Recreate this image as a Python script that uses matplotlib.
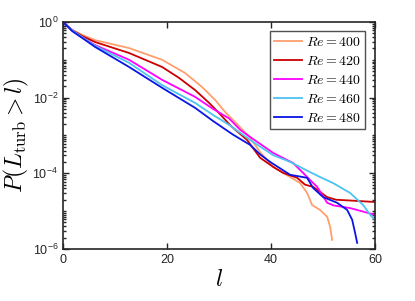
import matplotlib
matplotlib.use('Agg')
import matplotlib.pyplot as plt
import matplotlib.ticker as mticker
import numpy as np

plt.rcParams['font.family'] = ['Liberation Sans', 'DejaVu Sans']
plt.rcParams['mathtext.fontset'] = 'cm'

# survival function P(L_turb > l) (log10 of P)
re_list = [400, 420, 440, 460, 480]
colour_list = ['#ff9f6e', '#cc0000', '#ff00ff', '#4cc3f0', '#0a14e6']

l_400 = [0, 1.73, 3.65, 6.15, 12.69, 19.04, 23.46, 26.73, 29.23, 31.15, 33.46,
         35.96, 37.88, 40.38, 43.65, 45.58, 46.92, 47.88, 49.42, 50.77, 51.35, 51.73]
p_400 = [0, -0.21, -0.34, -0.48, -0.69, -1.00, -1.35, -1.72, -2.06, -2.38, -2.70,
         -3.06, -3.44, -3.83, -4.10, -4.26, -4.52, -4.84, -4.97, -5.15, -5.42, -5.76]

l_420 = [0, 1.73, 3.65, 6.15, 12.69, 19.04, 22.31, 25.38, 28.08, 30.0, 32.12,
         35.38, 37.88, 40.38, 42.31, 45.0, 46.5, 48.08, 50.77, 52.5, 55.19, 60.0]
p_420 = [0, -0.21, -0.37, -0.53, -0.82, -1.19, -1.48, -1.80, -2.14, -2.41, -2.73,
         -3.12, -3.59, -3.83, -3.99, -4.12, -4.30, -4.36, -4.63, -4.70, -4.72, -4.76]

l_440 = [0, 1.73, 3.65, 6.15, 12.69, 19.04, 25.38, 28.85, 31.92, 34.04, 35.96,
         40.38, 44.23, 46.15, 47.5, 48.85, 50.77, 52.0, 55.19, 60.0]
p_440 = [0, -0.22, -0.40, -0.61, -1.00, -1.53, -1.98, -2.30, -2.55, -2.85, -3.04,
         -3.46, -3.73, -3.99, -4.18, -4.36, -4.78, -4.85, -4.92, -5.10]

l_460 = [0, 1.73, 3.65, 6.15, 12.69, 19.04, 25.38, 28.85, 31.92, 35.96, 40.38,
         43.65, 47.5, 49.42, 51.92, 55.19, 57.69, 59.04, 60.0]
p_460 = [0, -0.22, -0.40, -0.63, -1.08, -1.67, -2.14, -2.46, -2.72, -3.12, -3.52,
         -3.70, -3.97, -4.10, -4.26, -4.52, -4.84, -5.10, -5.23]

l_480 = [0, 1.73, 3.65, 6.15, 12.69, 19.04, 25.38, 28.85, 32.69, 35.96, 37.88,
         39.81, 43.65, 46.92, 48.08, 50.0, 52.69, 54.62, 55.58, 56.15, 56.54]
p_480 = [0, -0.24, -0.42, -0.66, -1.19, -1.74, -2.27, -2.62, -2.98, -3.25, -3.50,
         -3.70, -4.04, -4.12, -4.39, -4.63, -4.78, -4.97, -5.23, -5.58, -5.84]

l_all = [l_400, l_420, l_440, l_460, l_480]
p_all = [p_400, p_420, p_440, p_460, p_480]

fig = plt.figure(figsize=(4.15, 3.01), dpi=100)
ax = fig.add_axes([0.152, 0.173, 0.752, 0.754])

for re, c, l, p in zip(re_list, colour_list, l_all, p_all):
    ax.semilogy(l, 10.0 ** np.array(p), '-', color=c, lw=1.3, label='$Re = %d$' % re)

ax.set_xlim(0, 60)
ax.set_ylim(1e-6, 1)
ax.set_xticks([0, 20, 40, 60])
ax.yaxis.set_major_locator(mticker.FixedLocator([1e-6, 1e-4, 1e-2, 1]))
ax.yaxis.set_minor_locator(mticker.LogLocator(base=10, subs=np.arange(1, 10), numticks=20))
ax.yaxis.set_minor_formatter(mticker.NullFormatter())
ax.tick_params(which='both', direction='in', top=True, right=True,
               labelsize=9, colors='#262626', width=1.0)
ax.tick_params(which='major', length=4)
ax.tick_params(which='minor', length=2)
for s in ax.spines.values():
    s.set_linewidth(1.2)
    s.set_color('#262626')

ax.set_xlabel('$l$', fontsize=17, labelpad=2)
ax.set_ylabel(r'$P(L_{\mathrm{turb}} > l)$', fontsize=17, labelpad=1)

leg = ax.legend(loc='upper right', fontsize=10, frameon=True, fancybox=False,
                edgecolor='#262626', handlelength=2.0, borderaxespad=0.5,
                bbox_to_anchor=(0.99, 0.99),
                labelspacing=0.35, handletextpad=0.3, borderpad=0.3)
leg.get_frame().set_linewidth(1.0)

fig.savefig('out.png', dpi=100)
